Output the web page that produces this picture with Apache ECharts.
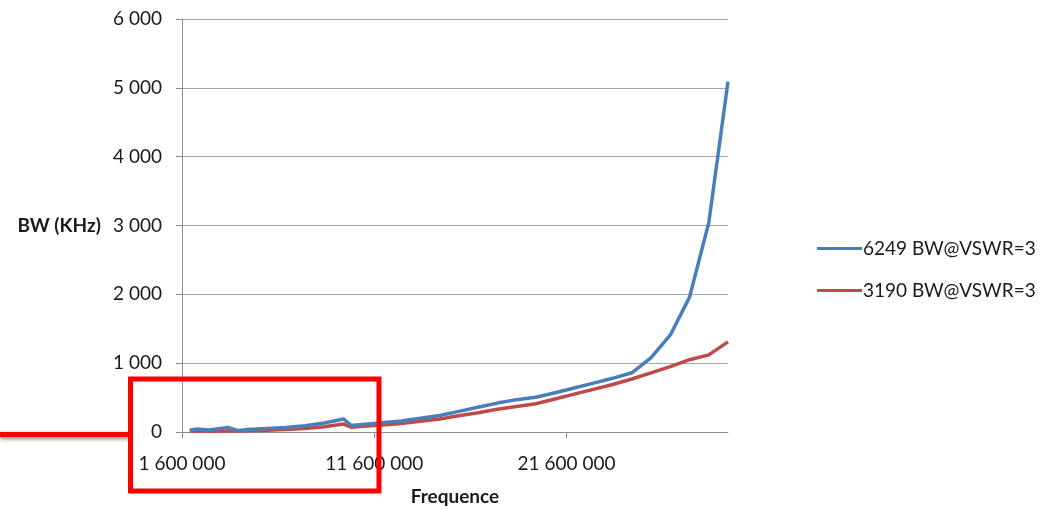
<!DOCTYPE html>
<html>
<head>
<meta charset="utf-8">
<script src="https://cdn.jsdelivr.net/npm/echarts@6/dist/echarts.min.js"></script>
<style>
html,body{margin:0;padding:0;background:#fff;overflow:hidden;}
#chart{width:1055px;height:510px;}
</style>
</head>
<body>
<div id="chart"></div>
<script>
// Frequencies (Hz)
const freqs = [2.0e6, 2.4e6, 3.0e6, 4.0e6, 4.5e6, 5e6, 6e6, 7e6, 8e6, 9e6, 10e6, 10.4e6,
  11e6, 12e6, 13e6, 14e6, 15e6, 16e6, 17e6, 18e6, 19e6, 20e6, 21e6, 22e6, 23e6, 24e6,
  25e6, 26e6, 27e6, 28e6, 29e6, 30e6];
// BW (KHz)
const bw6249 = [25, 45, 30, 65, 20, 35, 50, 65, 90, 130, 190, 95,
  110, 135, 160, 200, 240, 300, 360, 420, 470, 505, 570, 640, 710, 780,
  860, 1080, 1410, 1960, 3040, 5090];
const bw3190 = [10, 10, 12, 15, 15, 18, 25, 35, 50, 75, 115, 70,
  85, 100, 125, 155, 190, 235, 280, 330, 370, 410, 480, 550, 620, 690,
  770, 860, 950, 1050, 1120, 1310];
const seriesNames = ['6249 BW@VSWR=3', '3190 BW@VSWR=3'];
const xTickStart = 1600000;   // first labelled tick
const xMax = 30000000;
const yTicks = [0, 1000, 2000, 3000, 4000, 5000, 6000];

function fmt(v) {
  return String(Math.round(v)).replace(/\B(?=(\d{3})+(?!\d))/g, ' ');
}

const chart = echarts.init(document.getElementById('chart'));
const font = 'Lato, "Open Sans", sans-serif';
chart.setOption({
  animation: false,
  textStyle: { fontFamily: font },
  grid: { left: 182, right: 327, top: 19, bottom: 78, containLabel: false, outerBoundsMode: 'none' },
  legend: {
    orient: 'vertical',
    left: 812,
    top: 234,
    itemWidth: 45,
    itemHeight: 3,
    itemGap: 23,
    icon: 'rect',
    textStyle: { fontSize: 19, color: '#1a1a1a', fontFamily: font, padding: [0, 0, 0, -4] },
    data: seriesNames
  },
  xAxis: {
    type: 'value',
    min: 0,
    max: xMax - xTickStart,
    interval: 10000000,
    name: 'Frequence',
    nameLocation: 'middle',
    nameGap: 55,
    nameTextStyle: { fontSize: 19, fontWeight: 'bold', color: '#1a1a1a', fontFamily: font },
    axisLine: { show: true, lineStyle: { color: '#8c8c8c', width: 1 } },
    axisTick: { show: true, length: 6, lineStyle: { color: '#8c8c8c' } },
    axisLabel: { fontSize: 19, color: '#1a1a1a', margin: 22, formatter: v => fmt(v + xTickStart), showMaxLabel: false },
    splitLine: { show: false }
  },
  yAxis: {
    type: 'value',
    min: yTicks[0],
    max: yTicks[yTicks.length - 1],
    interval: 1000,
    name: 'BW (KHz)',
    nameLocation: 'middle',
    nameRotate: 0,
    nameGap: 81,
    nameTextStyle: { fontSize: 19, fontWeight: 'bold', color: '#1a1a1a', fontFamily: font, align: 'right', verticalAlign: 'middle' },
    axisLine: { show: true, lineStyle: { color: '#8c8c8c', width: 1 } },
    axisTick: { show: true, length: 6, lineStyle: { color: '#8c8c8c' } },
    axisLabel: { fontSize: 19, color: '#1a1a1a', margin: 20, formatter: v => fmt(v) },
    splitLine: { show: true, lineStyle: { color: '#a6a6a6', width: 1 } }
  },
  series: [
    {
      name: seriesNames[0], type: 'line', showSymbol: false, symbol: 'none',
      color: '#4a7ebb',
      lineStyle: { width: 3.5, color: '#4a7ebb' },
      data: freqs.map((f, i) => [f - xTickStart, bw6249[i]]),
      z: 3
    },
    {
      name: seriesNames[1], type: 'line', showSymbol: false, symbol: 'none',
      color: '#be4b48',
      lineStyle: { width: 3.5, color: '#be4b48' },
      data: freqs.map((f, i) => [f - xTickStart, bw3190[i]]),
      z: 2
    }
  ],
  graphic: [
    {
      type: 'line', z: 100,
      shape: { x1: 0, y1: 434.5, x2: 130, y2: 434.5 },
      style: { stroke: '#ff0000', lineWidth: 5, shadowBlur: 4, shadowColor: 'rgba(0,0,0,0.45)', shadowOffsetY: 2, shadowOffsetX: 0 }
    },
    {
      type: 'rect', z: 100,
      shape: { x: 130.5, y: 379, width: 248.5, height: 112 },
      style: { fill: 'none', stroke: '#ff0000', lineWidth: 5 }
    }
  ]
});
</script>
</body>
</html>
